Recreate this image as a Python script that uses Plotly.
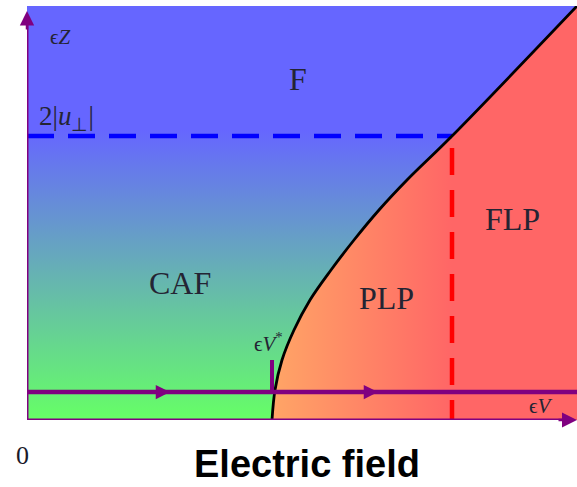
import plotly.graph_objects as go

# ---- data (arbitrary field units) ----
boundary_ev = [4.90, 4.96, 5.10, 5.34, 5.66, 6.08, 6.54, 7.04, 7.60, 8.50, 11.0]
boundary_ez = [0.00, 0.60, 1.20, 1.80, 2.40, 3.00, 3.60, 4.20, 4.80, 5.68, 8.28]
ev_star = 4.90          # epsilon_V*
ev_flp = 8.50           # PLP -> FLP boundary (red dashed)
ez_sat = 5.68           # 2|u_perp| (blue dashed)
path_ez = 0.56          # horizontal sweep path
path_arrows_ev = [2.86, 7.02]
tick_top = 1.20
red_top = 5.44
x_max, y_max = 11.0, 8.28
ez_axis_top = 8.18

purple = "#800080"
serif = "Liberation Serif, Times New Roman, serif"
sans = "Liberation Sans, Arial, sans-serif"
txt = "#242433"

fig = go.Figure()

# left region (F / CAF): vertical gradient green -> blue
left_x = [0] + boundary_ev + [0]
left_y = [0] + boundary_ez + [y_max]
fig.add_trace(go.Scatter(
    x=left_x, y=left_y, mode="lines", fill="toself", line=dict(width=0),
    fillgradient=dict(type="vertical", start=0, stop=5.8,
                      colorscale=[[0, "#66ff66"], [1, "#6666ff"]]),
    hoverinfo="skip", showlegend=False))

# right region (PLP / FLP): horizontal gradient orange -> red
right_x = boundary_ev + [x_max]
right_y = boundary_ez + [0]
fig.add_trace(go.Scatter(
    x=right_x, y=right_y, mode="lines", fill="toself", line=dict(width=0),
    fillgradient=dict(type="horizontal", start=ev_star, stop=ev_flp,
                      colorscale=[[0, "#ffa566"], [1, "#ff6666"]]),
    hoverinfo="skip", showlegend=False))

# blue dashed line 2|u_perp|
fig.add_trace(go.Scatter(x=[0, ev_flp], y=[ez_sat, ez_sat], mode="lines",
                         line=dict(color="#0000ff", width=4.5, dash="27px,14px"),
                         hoverinfo="skip", showlegend=False))
# red dashed vertical
fig.add_trace(go.Scatter(x=[ev_flp, ev_flp], y=[red_top, 0], mode="lines",
                         line=dict(color="#ff0000", width=4.5, dash="27px,15px"),
                         hoverinfo="skip", showlegend=False))

# black phase boundary
fig.add_trace(go.Scatter(x=boundary_ev, y=boundary_ez, mode="lines",
                         line=dict(color="black", width=2.8, shape="spline", smoothing=1),
                         hoverinfo="skip", showlegend=False))

# axes lines
fig.add_trace(go.Scatter(x=[0, 0], y=[0, ez_axis_top - 0.2], mode="lines",
                         line=dict(color=purple, width=3), cliponaxis=False,
                         hoverinfo="skip", showlegend=False))
fig.add_trace(go.Scatter(x=[0, x_max - 0.2], y=[0, 0], mode="lines",
                         line=dict(color=purple, width=3), cliponaxis=False,
                         hoverinfo="skip", showlegend=False))
# horizontal sweep path
fig.add_trace(go.Scatter(x=[0, x_max], y=[path_ez, path_ez], mode="lines",
                         line=dict(color=purple, width=4.5),
                         hoverinfo="skip", showlegend=False))
# epsilon_V* tick
fig.add_trace(go.Scatter(x=[ev_star, ev_star], y=[path_ez, tick_top], mode="lines",
                         line=dict(color=purple, width=4),
                         hoverinfo="skip", showlegend=False))

def arrow(x, y, ax, ay, width, size):
    fig.add_annotation(x=x, y=y, ax=ax, ay=ay, xref="x", yref="y", axref="x", ayref="y",
                       text="", showarrow=True, arrowhead=2, arrowsize=size,
                       arrowwidth=width, arrowcolor=purple, standoff=0)

arrow(0, ez_axis_top, 0, ez_axis_top - 0.4, 2.5, 1.15)
arrow(x_max, 0, x_max - 0.4, 0, 2.5, 1.2)
for xa in path_arrows_ev:
    arrow(xa, path_ez, xa - 0.3, path_ez, 3, 0.95)

def lab(x, y, text, size, family=serif, color=txt, ref="x"):
    fig.add_annotation(x=x, y=y, text=text, showarrow=False,
                       xref=ref, yref=ref.replace("x", "y"),
                       font=dict(family=family, size=size, color=color),
                       xanchor="center", yanchor="middle", borderpad=0)

lab(0.66, 7.66, "ϵ<i>Z</i>", 21)
lab(0.78, 6.04, "2|<i>u</i><sub>⊥</sub>|", 27)
lab(5.42, 6.82, "F", 32)
lab(3.06, 2.74, "CAF", 32)
lab(7.18, 2.44, "PLP", 32)
lab(9.70, 4.02, "FLP", 32)
lab(4.82, 1.56, "ϵ<i>V</i><sup>*</sup>", 21)
lab(10.28, 0.28, "ϵ<i>V</i>", 21)
lab(-0.009, -0.085, "0", 26, family=serif, color="#1a1a2a", ref="paper")
lab(0.509, -0.106, "<b>Electric field</b>", 38, family=sans, color="black", ref="paper")

fig.update_xaxes(range=[0, x_max], visible=False, fixedrange=True)
fig.update_yaxes(range=[0, y_max], visible=False, fixedrange=True)
fig.update_layout(width=577, height=487, margin=dict(l=27, r=0, t=6, b=67),
                  paper_bgcolor="white", plot_bgcolor="white", showlegend=False)

fig.write_html("out.html", config={"responsive": False, "displayModeBar": False},
               post_script="document.body.style.margin='0px';document.body.style.overflow='hidden';")
